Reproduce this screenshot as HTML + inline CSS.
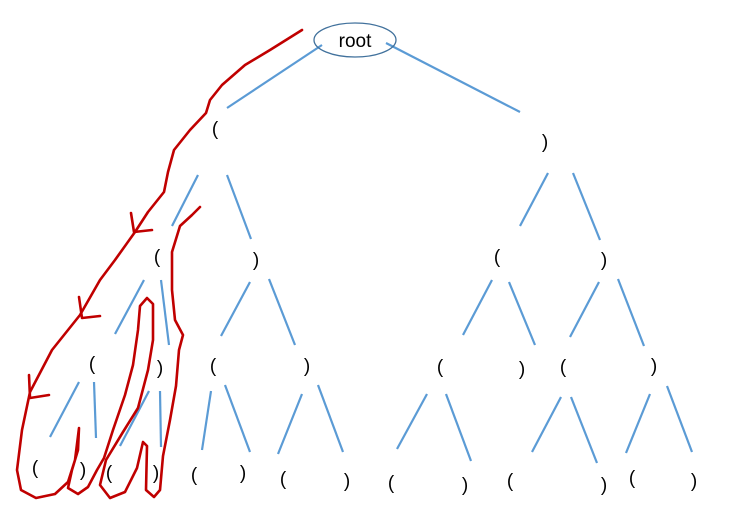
<!DOCTYPE html>
<html><head><meta charset="utf-8"><style>
html,body{margin:0;padding:0;background:#fff;}
svg{display:block;}
text{font-family:"Liberation Sans",sans-serif;fill:#000;}
</style></head><body>
<svg width="730" height="520" viewBox="0 0 730 520" xmlns="http://www.w3.org/2000/svg">
<g stroke="#5b9bd5" stroke-width="2.2" fill="none">
<line x1="322" y1="45" x2="227" y2="108"/>
<line x1="386" y1="43" x2="520" y2="112"/>
<line x1="198" y1="175" x2="172" y2="226"/>
<line x1="227" y1="175" x2="251" y2="239"/>
<line x1="548" y1="173" x2="520" y2="226"/>
<line x1="573" y1="173" x2="600" y2="240"/>
<line x1="144" y1="280" x2="115" y2="334"/>
<line x1="161" y1="280" x2="169" y2="345"/>
<line x1="250" y1="282" x2="221" y2="336"/>
<line x1="269" y1="279" x2="295" y2="345"/>
<line x1="492" y1="280" x2="463" y2="335"/>
<line x1="509" y1="282" x2="535" y2="345"/>
<line x1="599" y1="282" x2="570" y2="337"/>
<line x1="618" y1="279" x2="644" y2="346"/>
<line x1="79" y1="382" x2="50" y2="437"/>
<line x1="94" y1="382" x2="96" y2="438"/>
<line x1="149" y1="391" x2="120" y2="446"/>
<line x1="160" y1="391" x2="161" y2="447"/>
<line x1="211" y1="391" x2="202" y2="450"/>
<line x1="225" y1="385" x2="250" y2="452"/>
<line x1="302" y1="394" x2="278" y2="454"/>
<line x1="318" y1="385" x2="343" y2="452"/>
<line x1="427" y1="394" x2="397" y2="449"/>
<line x1="446" y1="394" x2="471" y2="461"/>
<line x1="561" y1="397" x2="532" y2="452"/>
<line x1="571" y1="397" x2="597" y2="463"/>
<line x1="650" y1="394" x2="626" y2="453"/>
<line x1="667" y1="386" x2="692" y2="452"/>
</g>
<ellipse cx="355" cy="40" rx="41" ry="17" fill="none" stroke="#41719c" stroke-width="1.3"/>
<text x="355" y="47" font-size="19" text-anchor="middle">root</text>
<g font-size="19" text-anchor="middle">
<text x="215" y="135">(</text><text x="545" y="148">)</text>
<text x="157" y="263">(</text><text x="256" y="266">)</text>
<text x="497" y="263">(</text><text x="604" y="266">)</text>
<text x="92" y="370">(</text><text x="160" y="374">)</text>
<text x="213" y="372">(</text><text x="307" y="372">)</text>
<text x="440" y="373">(</text><text x="522" y="375">)</text>
<text x="563" y="373">(</text><text x="654" y="372">)</text>
<text x="35" y="474">(</text><text x="83" y="476">)</text>
<text x="109" y="479">(</text><text x="156" y="479">)</text>
<text x="194" y="481">(</text><text x="243" y="479">)</text>
<text x="283" y="485">(</text><text x="347" y="487">)</text>
<text x="391" y="489">(</text><text x="465" y="491">)</text>
<text x="510" y="487">(</text><text x="604" y="491">)</text>
<text x="632" y="484">(</text><text x="694" y="487">)</text>
</g>
<g stroke="#c00000" stroke-width="2.6" fill="none" stroke-linejoin="round" stroke-linecap="round">
<path d="M302,30 L270,50 L245,65 L222,85 L210,100 L206,113 L190,130 L174,150 L168,172 L164,192 L148,212 L135,232 L115,260 L100,280 L80,315 L52,350 L30,392 L22,430 L17,470 L21,490 L36,498 L55,494 L68,482 L75,460 L79,428 L78,450 L72,470 L68,488 L78,494 L88,487 L97,470 L104,458 L113,430 L125,395 L133,365 L138,330 L140,306 L147,298 L153,304 L153,340 L148,370 L138,408 L123,432 L106,460 L100,485 L110,498 L125,492 L137,468 L143,442 L147,446 L146,490 L154,497 L160,490 L163,456 L170,420 L176,386 L179,350 L183,335 L175,320 L172,290 L172,252 L180,226 L192,215 L200,207"/>
<path d="M131,213 L134,232 L152,230"/>
<path d="M79,297 L82,318 L100,316"/>
<path d="M29,375 L30,398 L49,395"/>
</g>
</svg>
</body></html>
